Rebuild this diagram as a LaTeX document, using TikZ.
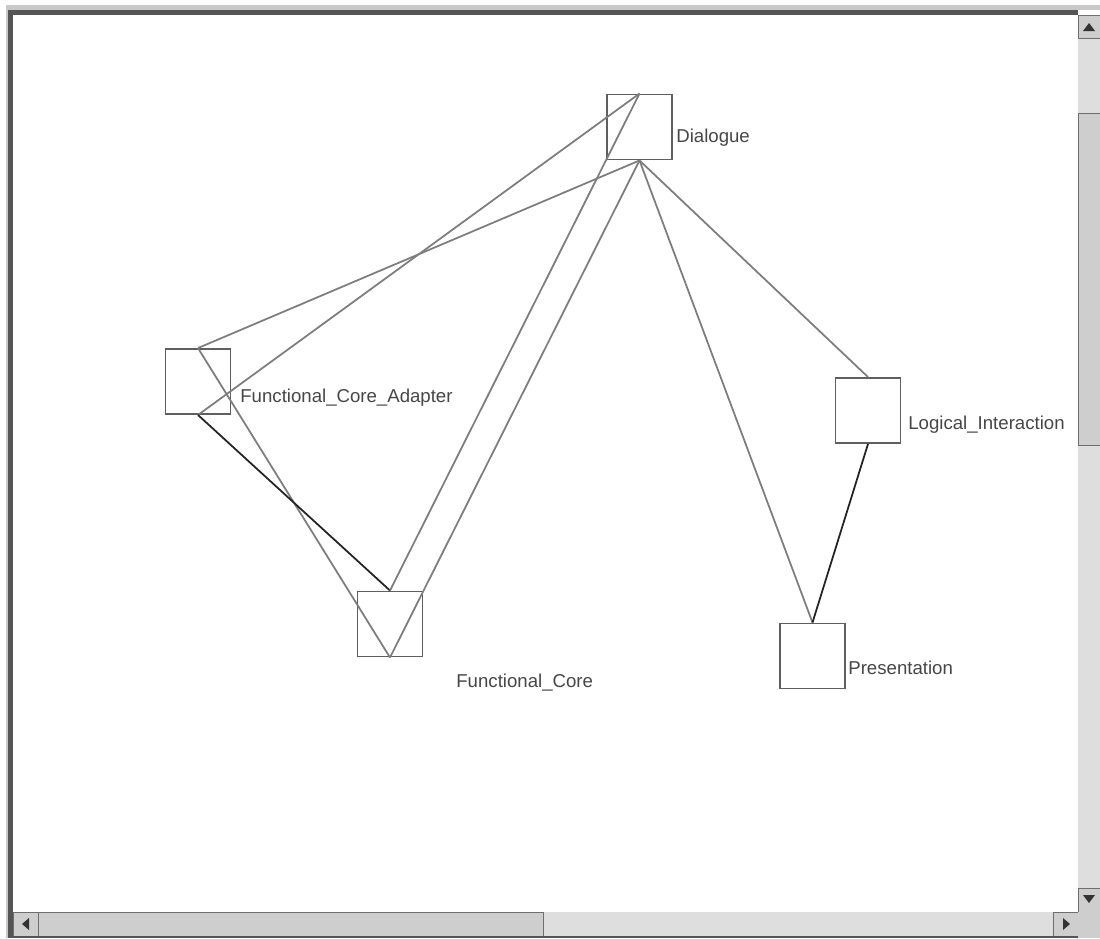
\documentclass[tikz,border=0pt]{standalone}
\usepackage{fontspec}
\setmainfont{Liberation Sans}
\usepackage{tikz}
\usetikzlibrary{positioning}
\definecolor{boxgray}{RGB}{95,95,95}
\definecolor{linkgray}{RGB}{125,125,125}
\definecolor{linkdark}{RGB}{35,35,35}
\definecolor{labelgray}{RGB}{70,70,70}
\definecolor{barface}{RGB}{206,206,206}
\definecolor{bartrack}{RGB}{222,222,222}
\definecolor{barshade}{RGB}{110,110,110}
\definecolor{framelight}{RGB}{200,200,200}
\definecolor{framedark}{RGB}{85,85,85}

\begin{document}
\begin{tikzpicture}[
    x=0.02cm, y=-0.02cm,
    classbox/.style={draw=boxgray, line width=1.1pt, minimum size=1.3cm, inner sep=0pt},
    classlabel/.style={font=\fontsize{10.6pt}{12pt}\selectfont, text=labelgray, anchor=base west, inner sep=0pt},
    link/.style={draw=linkgray, line width=1pt},
    strong/.style={draw=linkdark, line width=1pt},
    barbutton/.style={fill=barface, draw=barshade, line width=0.5pt},
    arrowtip/.style={fill=black!80}
]
    \useasboundingbox (0,0) rectangle (1100,938);
    \fill[white] (0,0) rectangle (1100,938);

    % window frame
    \fill[framelight] (6,5) rectangle (1100,10);
    \fill[framelight] (6,5) rectangle (8,938);
    \fill[framedark] (8,10) rectangle (1078,15);
    \fill[framedark] (8,10) rectangle (13,938);

    % vertical scroll bar
    \fill[bartrack] (1078,15) rectangle (1100,912);
    \draw[barbutton] (1078,15) rectangle (1100,38);
    \fill[arrowtip] (1083,31) -- (1095,31) -- (1089,23) -- cycle;
    \draw[barbutton] (1078,113) rectangle (1100,445);
    \draw[barbutton] (1078,888) rectangle (1100,912);
    \fill[arrowtip] (1083,895) -- (1095,895) -- (1089,903) -- cycle;

    % horizontal scroll bar
    \fill[bartrack] (13,912) rectangle (1078,936);
    \draw[barbutton] (13,912) rectangle (38,936);
    \fill[arrowtip] (29,918) -- (29,930) -- (22,924) -- cycle;
    \draw[barbutton] (38,912) rectangle (543,936);
    \draw[barbutton] (1053,912) rectangle (1078,936);
    \fill[arrowtip] (1063,918) -- (1063,930) -- (1070,924) -- cycle;
    \fill[barface] (1078,912) rectangle (1100,938);
    \fill[framedark] (13,936) rectangle (1078,938);

    % classes
    \node[classbox] (dialogue) at (639.5,127) {};
    \node[classbox] (adapter) at (198,381.5) {};
    \node[classbox] (core) at (390,624) {};
    \node[classbox] (logical) at (868,410.5) {};
    \node[classbox] (present) at (812.5,656) {};

    % labels
    \node[classlabel] (dialoguelbl) at (676,142) {Dialogue};
    \node[classlabel] (adapterlbl) at (240,402) {Functional\_Core\_Adapter};
    \node[classlabel] (corelbl) at (456,687) {Functional\_Core};
    \node[classlabel] (logicallbl) at (908,429) {Logical\_Interaction};
    \node[classlabel] (presentlbl) at (848,674) {Presentation};

    % links
    \draw[link] (adapter.north) -- (dialogue.south);
    \draw[link] (adapter.south) -- (dialogue.north);
    \draw[link] (adapter.north) -- (core.south);
    \draw[strong] (adapter.south) -- (core.north);
    \draw[link] (core.north) -- (dialogue.north);
    \draw[link] (core.south) -- (dialogue.south);
    \draw[link] (dialogue.south) -- (present.north);
    \draw[link] (dialogue.south) -- (logical.north);
    \draw[strong] (logical.south) -- (present.north);
\end{tikzpicture}
\end{document}
